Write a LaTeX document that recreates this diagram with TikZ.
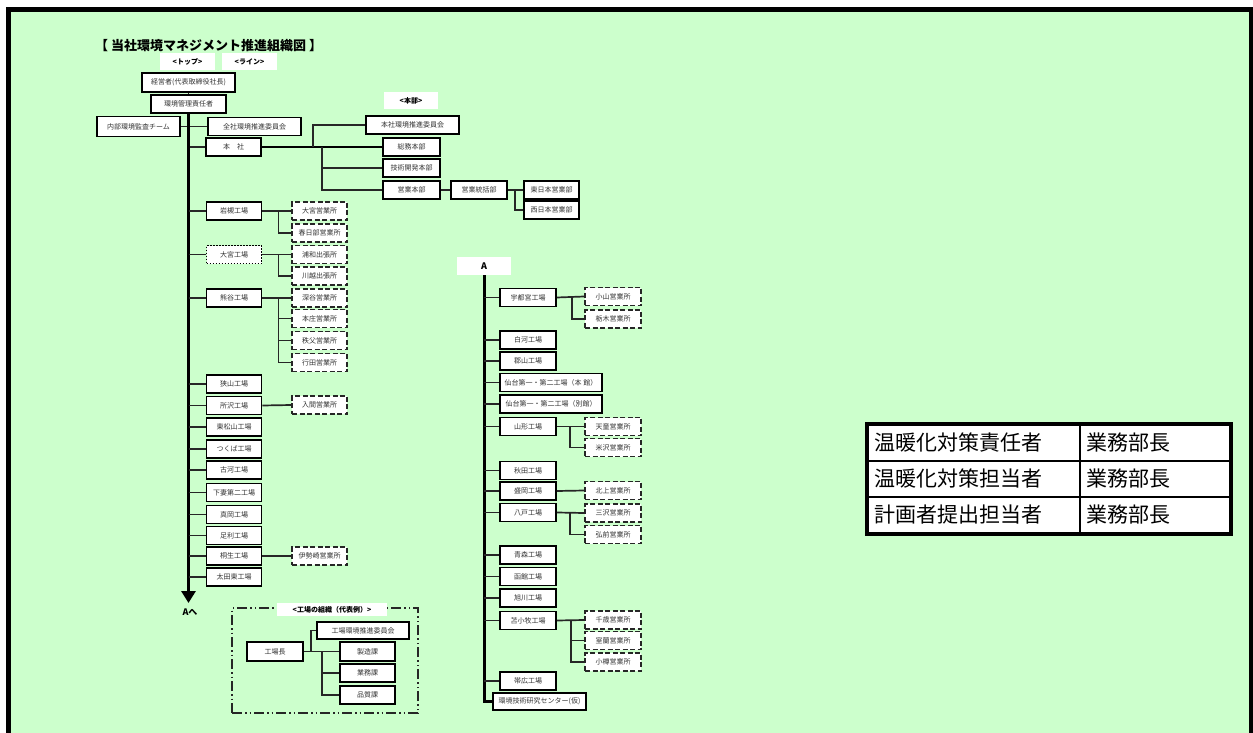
\documentclass[tikz,border=0pt]{standalone}
\usepackage{fontspec}
\setmainfont{Noto Sans CJK JP}
\usetikzlibrary{arrows.meta}
\definecolor{bggreen}{HTML}{CCFFCC}

\begin{document}
\begin{tikzpicture}[x=1pt, y=-1pt, >=Stealth,
  every node/.style={inner sep=0pt, font=\fontsize{7}{8}\selectfont, text=black!80},
  box/.style={draw=black, fill=white, line width=1.7pt, minimum width=55pt, minimum height=18pt},
  dbox/.style={box, dash pattern=on 5pt off 2.5pt, draw=black!85},
  obox/.style={box, dash pattern=on 1.5pt off 1.5pt},
  lbl/.style={fill=white, font=\bfseries\fontsize{7}{8}\selectfont, text=black},
  br/.style={line width=1.7pt, black!85},
  thk/.style={line width=2.4pt, black},
  trunk/.style={line width=3pt, black},
  cell/.style={draw=black, fill=white, line width=2pt, minimum height=36pt, inner xsep=6pt,
    align=left, text=black, font=\fontsize{21}{24}\selectfont}]
  \useasboundingbox (0,0) rectangle (1253,733);
  \fill[white] (0,0) rectangle (1253,733);
  \fill[bggreen] (11,12) rectangle (1249,733);
  \draw[line width=5pt] (8.5,740) -- (8.5,9.5) -- (1251.5,9.5) -- (1251.5,740);

  % title and headings
  \node[font=\bfseries\fontsize{13}{14}\selectfont, text=black, anchor=west] (ttl) at (95,46)
    {【 当社環境マネジメント推進組織図 】};
  \node[lbl, minimum width=55pt, minimum height=17pt] (ltop) at (187.5,61.5) {<トップ>};
  \node[lbl, minimum width=55pt, minimum height=17pt] (lline) at (249.5,61.5) {<ライン>};
  \node[lbl, minimum width=54pt, minimum height=17pt] (lhonbu) at (411,100.5) {<本部>};

  % top management
  \node[box, minimum width=93pt, minimum height=19pt] (pres) at (188.5,82.5) {経営者(代表取締役社長)};
  \node[box, minimum width=75pt] (mgr) at (188.5,104) {環境管理責任者};
  \node[box, minimum width=83pt, minimum height=20pt] (audit) at (138.5,126.5) {内部環境監査チーム};
  \node[box, minimum width=93pt] (zensha) at (254.5,126.5) {全社環境推進委員会};
  \draw[br] (pres.south) -- (mgr.north);
  \draw[br] (audit.east) -- (zensha.west);

  % head office
  \node[box] (hq) at (233.5,147) {本\quad 社};
  \node[box, minimum width=93pt] (isoc) at (412.5,125) {本社環境推進委員会};
  \node[box, minimum width=57pt] (somu) at (411.5,147) {総務本部};
  \node[box, minimum width=57pt] (gikai) at (411.5,168) {技術開発本部};
  \node[box, minimum width=57pt] (eigyo) at (411.5,190) {営業本部};
  \node[box, minimum width=56pt] (tokatsu) at (479,190) {営業統括部};
  \node[box] (east) at (551.5,190) {東日本営業部};
  \node[box] (west) at (551.5,210) {西日本営業部};
  \coordinate (hk) at (313,147);
  \coordinate (hj) at (322,147);
  \draw[br] (mgr.south |- hq.west) -- (hq.west);
  \draw[thk] (hq.east) -- (somu.west);
  \draw[br] (hk) |- (isoc.west);
  \draw[br] (hj) |- (gikai.west);
  \draw[br] (hj) |- (eigyo.west);
  \draw[br] (eigyo.east) -- (tokatsu.west);
  \draw[br] (tokatsu.east) -- (east.west);
  \draw[br] ([xshift=7pt]tokatsu.east) |- (west.west);

  % left line of plants
  \coordinate (arr) at (188.5,603);
  \draw[trunk, -{Triangle[width=14pt,length=12pt]}] (mgr.south) -- (arr);
  \node[font=\bfseries\fontsize{9}{10}\selectfont, text=black] (ahe) at (190,612) {Aへ};
  \foreach \n/\y/\t in {f1/211/岩槻工場, f3/298/熊谷工場, f4/384/狭山工場, f5/405.5/所沢工場,
      f6/427/東松山工場, f7/449/つくば工場, f8/470/古河工場, f9/492.5/下妻第二工場,
      f10/514.5/真岡工場, f11/535.5/足利工場, f12/556/桐生工場, f13/577/太田東工場} {
    \node[box] (\n) at (234,\y) {\t};
    \draw[br] (mgr.south |- \n.west) -- (\n.west);
  }
  \node[obox] (f2) at (234,254.5) {大宮工場};
  \draw[br] (mgr.south |- f2.west) -- (f2.west);
  \foreach \n/\y/\t in {d1/211/大宮営業所, d2/233/春日部営業所, d3/254.5/浦和出張所,
      d4/276/川越出張所, d5/298/深谷営業所, d6/318.5/本庄営業所, d7/340.5/秩父営業所,
      d8/362.5/行田営業所, d9/405/入間営業所, d10/556/伊勢崎営業所} {
    \node[dbox] (\n) at (319.5,\y) {\t};
  }
  \draw[br] (f1.east) -- (d1.west);
  \draw[br] ([xshift=16pt]f1.east) |- (d2.west);
  \draw[br] (f2.east) -- (d3.west);
  \draw[br] ([xshift=16pt]f2.east) |- (d4.west);
  \draw[br] (f3.east) -- (d5.west);
  \foreach \d in {d6,d7,d8}
    \draw[br] ([xshift=16pt]f3.east) |- (\d.west);
  \draw[br] (f5.east) -- (d9.west);
  \draw[br] (f12.east) -- (d10.west);

  % right line of plants
  \node[lbl, minimum width=54pt, minimum height=18pt, font=\bfseries\fontsize{9}{10}\selectfont] (alab) at (484,266) {A};
  \node[box, minimum width=93pt, minimum height=17pt] (r15) at (539.5,701.5) {環境技術研究センター(仮)};
  \draw[trunk] (alab.south) |- (r15.west);
  \foreach \n/\y/\t in {r1/297.5/宇都宮工場, r2/340/白河工場, r3/361/郡山工場, r6/426.5/山形工場,
      r7/470.5/秋田工場, r8/491/盛岡工場, r9/512.5/八戸工場, r10/555/青森工場,
      r11/576.5/函館工場, r12/598/旭川工場, r13/620.5/苫小牧工場, r14/681/帯広工場} {
    \node[box, minimum width=56pt] (\n) at (528,\y) {\t};
    \draw[br] (alab.south |- \n.west) -- (\n.west);
  }
  \foreach \n/\y/\t in {r4/382.5/仙台第一・第二工場（本\ 館）, r5/404/仙台第一・第二工場（別館）} {
    \node[box, minimum width=102pt] (\n) at (551,\y) {\t};
    \draw[br] (alab.south |- \n.west) -- (\n.west);
  }
  \foreach \n/\y/\t in {e1/296.5/小山営業所, e2/319/栃木営業所, e3/426.5/天童営業所,
      e4/447.5/米沢営業所, e5/490.5/北上営業所, e6/513/三沢営業所, e7/534.5/弘前営業所,
      e8/620/千歳営業所, e9/640.5/室蘭営業所, e10/662/小樽営業所} {
    \node[dbox, minimum width=56pt] (\n) at (613,\y) {\t};
  }
  \draw[br] (r1.east) -- (e1.west);
  \draw[br] ([xshift=15pt]r1.east) |- (e2.west);
  \draw[br] (r6.east) -- (e3.west);
  \draw[br] ([xshift=13pt]r6.east) |- (e4.west);
  \draw[br] (r8.east) -- (e5.west);
  \draw[br] (r9.east) -- (e6.west);
  \draw[br] ([xshift=13pt]r9.east) |- (e7.west);
  \draw[br] (r13.east) -- (e8.west);
  \foreach \e in {e9,e10}
    \draw[br] ([xshift=14pt]r13.east) |- (\e.west);

  % plant organisation (example)
  \node[draw=black!85, line width=1.5pt, minimum width=186pt, minimum height=105pt,
    dash pattern=on 10pt off 3pt on 1.5pt off 3pt on 1.5pt off 3pt] (grp) at (325,660.5) {};
  \node[lbl, minimum width=110pt, minimum height=13pt] (lkojo) at (332,609.5) {<工場の組織（代表例）>};
  \node[box, minimum width=56pt, minimum height=19pt] (kcho) at (275,651.5) {工場長};
  \node[box, minimum width=92pt, minimum height=17pt] (kcom) at (363,630.5) {工場環境推進委員会};
  \node[box, minimum height=19pt] (k1) at (367.5,651.5) {製造課};
  \node[box] (k2) at (367.5,673) {業務課};
  \node[box] (k3) at (367.5,695) {品質課};
  \draw[br] ([xshift=7pt]kcho.east) |- (kcom.west);
  \draw[br] (kcho.east) -- (k1.west);
  \draw[br] ([xshift=18pt]kcho.east) |- (k2.west);
  \draw[br] ([xshift=18pt]kcho.east) |- (k3.west);

  % responsibility table
  \node[cell, text width=200pt] (t11) at (974,443) {温暖化対策責任者};
  \node[cell, text width=138pt] (t12) at (1155,443) {業務部長};
  \node[cell, text width=200pt] (t21) at (974,479) {温暖化対策担当者};
  \node[cell, text width=138pt] (t22) at (1155,479) {業務部長};
  \node[cell, text width=200pt] (t31) at (974,515) {計画者提出担当者};
  \node[cell, text width=138pt] (t32) at (1155,515) {業務部長};
  \draw[line width=3.5pt] (t11.north west) rectangle (t32.south east);
\end{tikzpicture}
\end{document}
